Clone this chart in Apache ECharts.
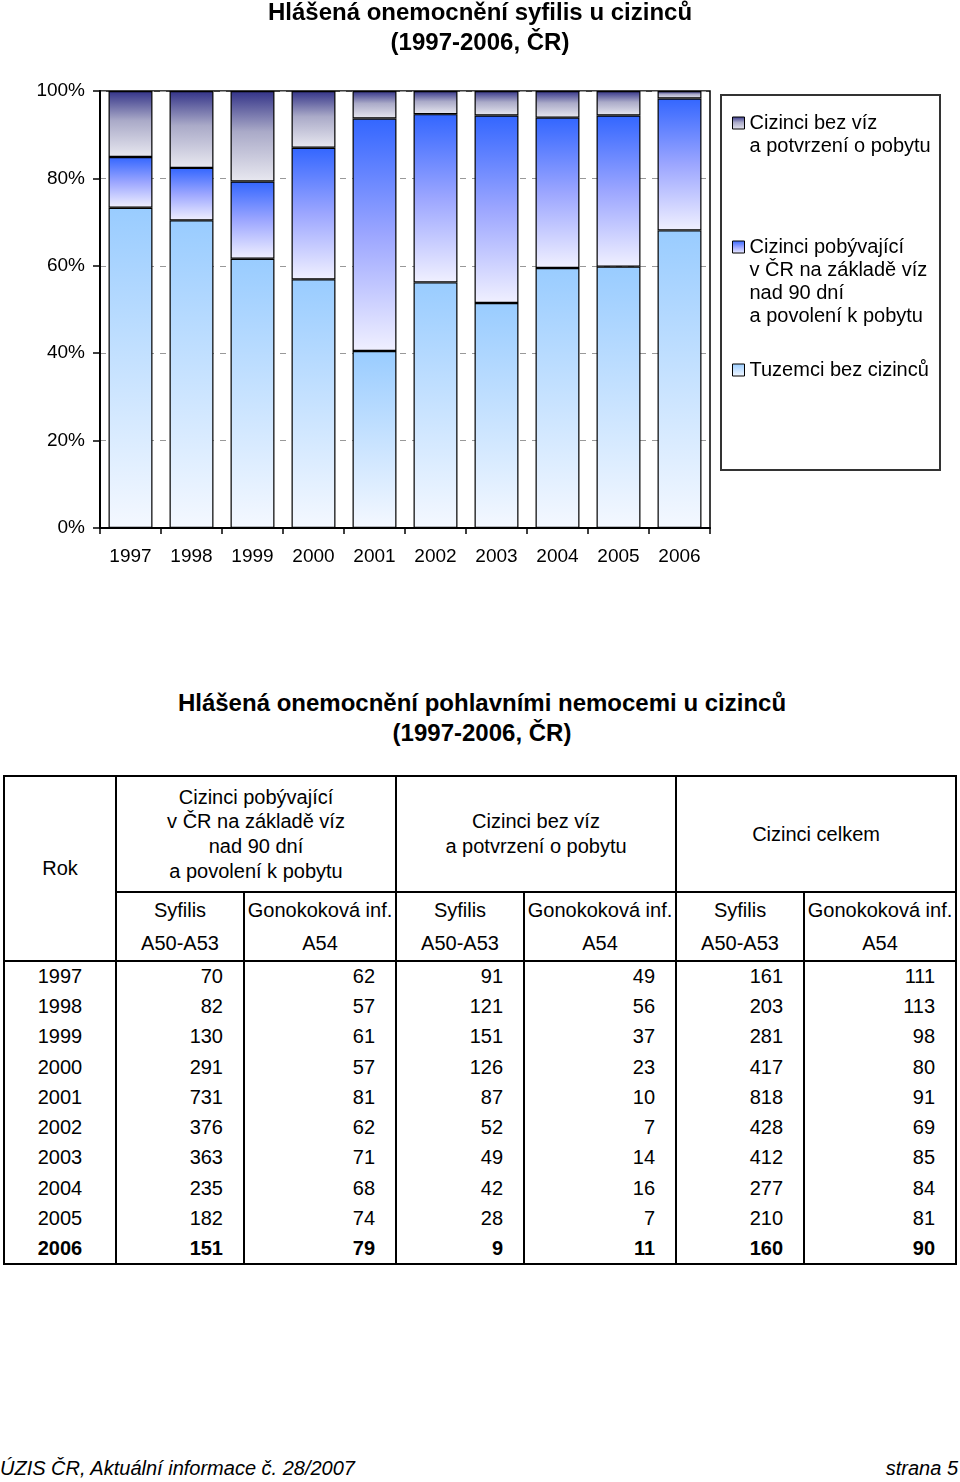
<!DOCTYPE html>
<html>
<head>
<meta charset="utf-8">
<script src="https://cdn.jsdelivr.net/npm/echarts@6/dist/echarts.min.js"></script>
<style>
  html, body { margin: 0; padding: 0; background: #fff; }
  body { width: 960px; height: 1482px; position: relative; overflow: hidden;
         font-family: "Liberation Sans", Arial, sans-serif; color: #000; }
  #chart { position: absolute; left: 0; top: 0; width: 960px; height: 600px; }
  #title2 { position: absolute; left: 0; width: 964px; top: 688px; text-align: center;
            font-weight: bold; font-size: 24px; line-height: 30px; }
  #tbl { position: absolute; left: 3px; top: 775px; width: 952px; border-collapse: collapse;
         table-layout: fixed; font-size: 20px; }
  #tbl td { padding: 0; border: 0; }
  #tbl td.c { text-align: center; }
  #tbl td.r { text-align: right; padding-right: 20px; }
  #footer { position: absolute; left: 0; top: 1457px; width: 958px; font-style: italic; font-size: 20px; }
  #footer span.r { position: absolute; right: 0; }
</style>
</head>
<body>
<div id="chart"></div>
<div id="title2">Hlášená onemocnění pohlavními nemocemi u cizinců<br>(1997-2006, ČR)</div>
<table id="tbl"></table>
<div id="footer"><span>ÚZIS ČR, Aktuální informace č. 28/2007</span><span class="r">strana 5</span></div>
<script>
// ---- chart data (percent shares) ----
const categories = ['1997','1998','1999','2000','2001','2002','2003','2004','2005','2006'];
const seriesNames = ['Tuzemci bez cizinců', 'Cizinci pobývající v ČR na základě víz nad 90 dní a povolení k pobytu', 'Cizinci bez víz a potvrzení o pobytu'];
const tuzemci   = [73.3, 70.4, 61.6, 56.9, 40.5, 56.2, 51.5, 59.5, 59.8, 68.1];
const pobyvajici = [11.6, 12.0, 17.7, 30.1, 53.2, 38.5, 42.9, 34.4, 34.6, 30.2];
const bezViz    = [15.1, 17.6, 20.7, 13.0, 6.3, 5.3, 5.6, 6.1, 5.6, 1.7];
const yTicks = [0, 20, 40, 60, 80, 100];

// ---- table data ----
const years  = ['1997','1998','1999','2000','2001','2002','2003','2004','2005','2006'];
const pobSyf = [70, 82, 130, 291, 731, 376, 363, 235, 182, 151];
const pobGon = [62, 57, 61, 57, 81, 62, 71, 68, 74, 79];
const bezSyf = [91, 121, 151, 126, 87, 52, 49, 42, 28, 9];
const bezGon = [49, 56, 37, 23, 10, 7, 14, 16, 7, 11];
const celSyf = [161, 203, 281, 417, 818, 428, 412, 277, 210, 160];
const celGon = [111, 113, 98, 80, 91, 69, 85, 84, 81, 90];
const groupHeaders = ['Cizinci pobývající<br>v ČR na základě víz<br>nad 90 dní<br>a povolení k pobytu',
                      'Cizinci bez víz<br>a potvrzení o pobytu', 'Cizinci celkem'];

const FONT = '"Liberation Sans", Arial, sans-serif';
function grad(stops) {
  return { type: 'linear', x: 0, y: 0, x2: 0, y2: 1,
    colorStops: stops.map(s => ({ offset: s[0], color: s[1] })) };
}
const fills = [
  grad([[0, '#99CCFF'], [1, '#F4F8FF']]),
  grad([[0, '#3366FF'], [0.5, '#9CA6FF'], [1, '#F0F0FF']]),
  grad([[0, '#333388'], [0.45, '#AAAAC8'], [1, '#E8E8F0']])
];
const dataArr = [tuzemci, pobyvajici, bezViz];

const legendLines = [
  ['Cizinci bez víz', 'a potvrzení o pobytu'],
  ['Cizinci pobývající', 'v ČR na základě víz', 'nad 90 dní', 'a povolení k pobytu'],
  ['Tuzemci bez cizinců']
];
const legendNames = [seriesNames[2], seriesNames[1], seriesNames[0]];
const legendIconTop = [117, 241, 364];
const LH = 23;
const legends = legendNames.map((nm, i) => {
  const n = legendLines[i].length;
  const offset = (2 * n - 1) * LH / 2 - 6;
  return {
    data: [nm], left: 732, top: legendIconTop[i] - offset, padding: 0,
    icon: 'rect', itemWidth: 12, itemHeight: 12, itemGap: 0, selectedMode: false,
    itemStyle: { borderColor: '#000', borderWidth: 1 },
    formatter: () => '\n'.repeat(n - 1) + legendLines[i].join('\n'),
    textStyle: { fontFamily: FONT, fontSize: 20, color: '#000', lineHeight: LH }
  };
});

const chart = echarts.init(document.getElementById('chart'), null, { renderer: 'canvas' });
chart.setOption({
  animation: false,
  backgroundColor: '#fff',
  title: [
    { text: 'Hlášená onemocnění syfilis u cizinců', left: 'center', top: -2, padding: 0,
      textStyle: { fontFamily: FONT, fontSize: 24, fontWeight: 'bold', color: '#000', lineHeight: 30 } },
    { text: '(1997-2006, ČR)', left: 'center', top: 28, padding: 0,
      textStyle: { fontFamily: FONT, fontSize: 24, fontWeight: 'bold', color: '#000', lineHeight: 30 } }
  ],
  legend: legends,
  graphic: [{
    type: 'rect', left: 720, top: 94, z: 0,
    shape: { width: 219, height: 375 },
    style: { fill: '#fff', stroke: '#333', lineWidth: 2 }
  }],
  grid: { left: 100, top: 91, width: 610, height: 437, show: true,
          borderColor: '#000', borderWidth: 1.5, backgroundColor: 'transparent' },
  xAxis: {
    type: 'category', data: categories,
    axisLine: { lineStyle: { color: '#000', width: 2 } },
    axisTick: { show: true, length: 6, lineStyle: { color: '#000', width: 1.5 } },
    axisLabel: { fontFamily: FONT, fontSize: 19, color: '#000', margin: 19 }
  },
  yAxis: {
    type: 'value', min: yTicks[0], max: yTicks[yTicks.length - 1], interval: 20,
    axisLine: { show: true, lineStyle: { color: '#000', width: 2 } },
    axisTick: { show: true, length: 7, lineStyle: { color: '#000', width: 1.5 } },
    axisLabel: { fontFamily: FONT, fontSize: 19, color: '#000', margin: 15, formatter: '{value}%' },
    splitLine: { show: true, lineStyle: { color: '#999', width: 1, type: [6, 6] } }
  },
  series: seriesNames.map((nm, i) => ({
    name: nm, type: 'bar', stack: 'total', data: dataArr[i],
    barCategoryGap: '28%',
    itemStyle: { color: fills[i], borderColor: '#000', borderWidth: 1.2 }
  }))
});

// ---- table ----
const tbl = document.getElementById('tbl');
const colW = [112, 128, 152, 128, 152, 128, 152];
const B = '2px solid #000';
let html = '<colgroup>' + colW.map(w => '<col style="width:' + w + 'px">').join('') + '</colgroup>';
html += '<tr style="height:116px">';
html += '<td class="c" rowspan="3" style="border:' + B + ';vertical-align:middle">Rok</td>';
groupHeaders.forEach(g => {
  html += '<td class="c" colspan="2" style="border:' + B + ';line-height:24.7px;vertical-align:middle">' + g + '</td>';
});
html += '</tr>';
html += '<tr style="height:35px">';
for (let k = 0; k < 3; k++) {
  html += '<td class="c" style="border-left:' + B + ';border-right:' + B + '">Syfilis</td>';
  html += '<td class="c" style="border-left:' + B + ';border-right:' + B + '">Gonokoková inf.</td>';
}
html += '</tr>';
html += '<tr style="height:34px">';
for (let k = 0; k < 3; k++) {
  html += '<td class="c" style="border-left:' + B + ';border-right:' + B + ';border-bottom:' + B + '">A50-A53</td>';
  html += '<td class="c" style="border-left:' + B + ';border-right:' + B + ';border-bottom:' + B + '">A54</td>';
}
html += '</tr>';
years.forEach((y, i) => {
  const last = i === years.length - 1;
  const bb = last ? ';border-bottom:' + B : '';
  const fw = last ? ';font-weight:bold' : '';
  const vals = [pobSyf[i], pobGon[i], bezSyf[i], bezGon[i], celSyf[i], celGon[i]];
  html += '<tr style="height:30.3px' + fw + '">';
  html += '<td class="c" style="border-left:' + B + ';border-right:' + B + bb + '">' + y + '</td>';
  vals.forEach(v => {
    html += '<td class="r" style="border-left:' + B + ';border-right:' + B + bb + '">' + v + '</td>';
  });
  html += '</tr>';
});
tbl.innerHTML = html;
</script>
</body>
</html>
